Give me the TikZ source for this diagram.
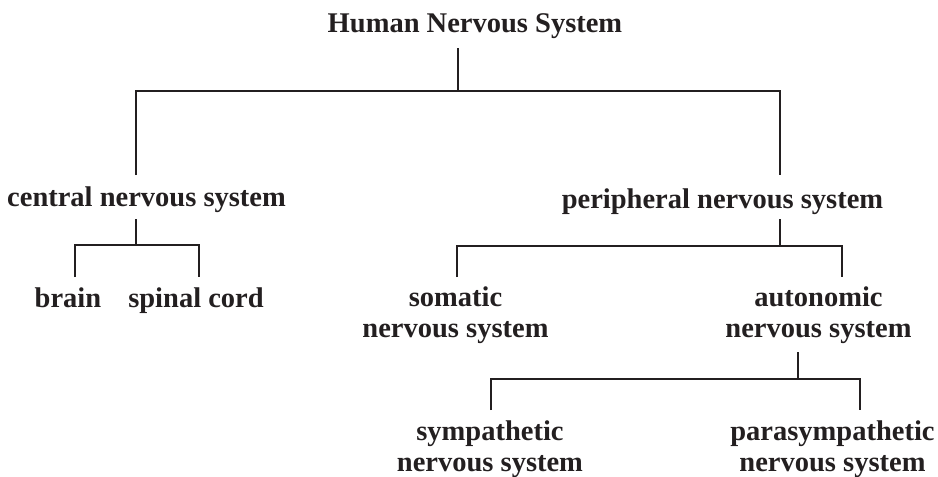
\documentclass[tikz,border=0pt]{standalone}
\usepackage{fontspec}
\setmainfont{Liberation Serif}
\definecolor{ink}{HTML}{231F20}
\tikzset{
  lbl/.style={inner sep=0pt, outer sep=0pt, anchor=base, align=center, text=ink,
    font=\bfseries\fontsize{28.5}{31}\selectfont},
  conn/.style={draw=ink, line width=1.7pt}
}
\begin{document}
\begin{tikzpicture}[x=1pt,y=-1pt]
\useasboundingbox (0,0) rectangle (938,477);
% labels (base anchor = baseline of last line)
\node[lbl] (hns) at (475,32) {Human Nervous System};
\node[lbl] (cns) at (146.5,206) {central nervous system};
\node[lbl] (pns) at (722.5,208) {peripheral nervous system};
\node[lbl] (brain) at (68,307) {brain};
\node[lbl] (spinal) at (196,307) {spinal cord};
\node[lbl] (som) at (455.5,337) {somatic\\nervous system};
\node[lbl] (aut) at (818.5,337) {autonomic\\nervous system};
\node[lbl] (sym) at (490,471) {sympathetic\\nervous system};
\node[lbl] (para) at (832.5,471) {parasympathetic\\nervous system};
% connector end points
\coordinate (hnsS) at (458,48);
\coordinate (hnsJ) at (458,91);
\coordinate (cnsN) at (136,175);
\coordinate (pnsN) at (780,175);
\coordinate (cnsS) at (136,219);
\coordinate (cnsJ) at (136,245);
\coordinate (brainN) at (75,277);
\coordinate (spinalN) at (199,277);
\coordinate (pnsS) at (780,219);
\coordinate (pnsJ) at (780,246);
\coordinate (somN) at (457,277);
\coordinate (autN) at (842,277);
\coordinate (autS) at (798,352);
\coordinate (autJ) at (798,379);
\coordinate (symN) at (491,410);
\coordinate (paraN) at (860,410);
% connectors
\draw[conn] (hnsS) -- (hnsJ);
\draw[conn] (cnsN) |- (hnsJ) -| (pnsN);
\draw[conn] (cnsS) -- (cnsJ);
\draw[conn] (brainN) |- (cnsJ) -| (spinalN);
\draw[conn] (pnsS) -- (pnsJ);
\draw[conn] (somN) |- (pnsJ) -| (autN);
\draw[conn] (autS) -- (autJ);
\draw[conn] (symN) |- (autJ) -| (paraN);
\end{tikzpicture}
\end{document}
